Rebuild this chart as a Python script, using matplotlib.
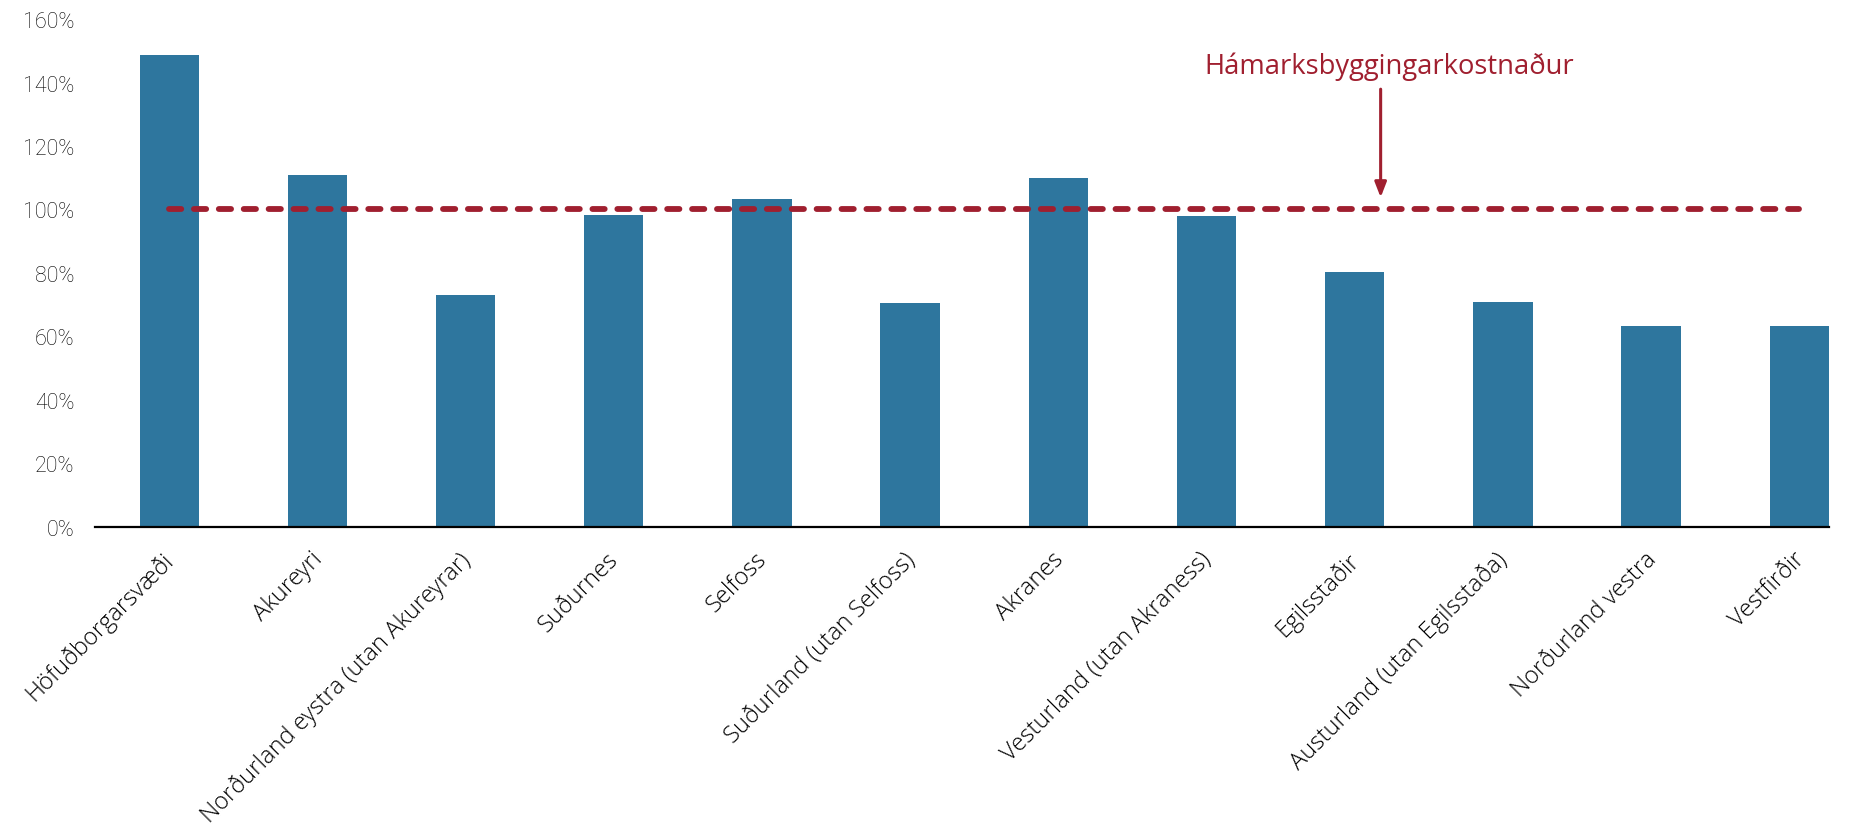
import matplotlib
matplotlib.use("Agg")
import matplotlib.pyplot as plt
from matplotlib.ticker import FuncFormatter
from matplotlib.transforms import ScaledTranslation

categories = ["Höfuðborgarsvæði", "Akureyri", "Norðurland eystra (utan Akureyrar)",
              "Suðurnes", "Selfoss", "Suðurland (utan Selfoss)", "Akranes",
              "Vesturland (utan Akraness)", "Egilsstaðir", "Austurland (utan Egilsstaða)",
              "Norðurland vestra", "Vestfirðir"]
values = [148.6, 110.8, 73.0, 98.2, 103.4, 70.5, 109.8, 97.8, 80.2, 70.9, 63.4, 63.4]
max_cost = 100
annotation_label = "Hámarksbyggingarkostnaður"
yticks = [0, 20, 40, 60, 80, 100, 120, 140, 160]

bar_color = "#2E769E"
red = "#A01F2F"

fig = plt.figure(figsize=(18.6, 8.28), dpi=100)
ax = fig.add_axes([0.0511, 0.3625, 0.9833 - 0.0511, 0.9758 - 0.3625])

x = list(range(len(categories)))
ax.bar(x, values, width=0.4, color=bar_color, zorder=2)
ax.plot([x[0], x[-1]], [max_cost, max_cost], color=red, lw=4.2,
        dashes=(2.1, 2.17), dash_capstyle="round", zorder=3)

ax.annotate("", xy=(8.175, 103.8), xytext=(8.175, 137.9),
            arrowprops=dict(arrowstyle="-|>,head_length=0.9,head_width=0.35", color=red, lw=2.2,
                            shrinkA=0, shrinkB=0))
ax.text(8.23, 145.3, annotation_label, color=red, fontsize=19.7, family="Open Sans",
        ha="center", va="center")

ax.set_xlim(-0.5, 11.2)
ax.set_ylim(0, 160)
ax.set_yticks(yticks)
ax.yaxis.set_major_formatter(FuncFormatter(lambda v, p: f"{int(v)}%"))
ax.set_xticks(x)
ax.set_xticklabels(categories, rotation=45, ha="right", rotation_mode="default",
                   family="Open Sans", fontsize=17.1, weight="light")
ax.tick_params(axis="x", length=0, pad=14.5)
ax.tick_params(axis="y", length=0, pad=15, labelsize=15.5)
shift = ScaledTranslation(10 / 100, 0, fig.dpi_scale_trans)
for lab in ax.get_xticklabels():
    lab.set_color("#000000")
    lab.set_transform(lab.get_transform() + shift)
for lab in ax.get_yticklabels():
    lab.set_family("Roboto")
    lab.set_weight("light")
    lab.set_color("#000000")

for s in ["top", "right", "left"]:
    ax.spines[s].set_visible(False)
ax.spines["bottom"].set_linewidth(1.6)
ax.spines["bottom"].set_color("black")

fig.savefig("out.png", dpi=100)
